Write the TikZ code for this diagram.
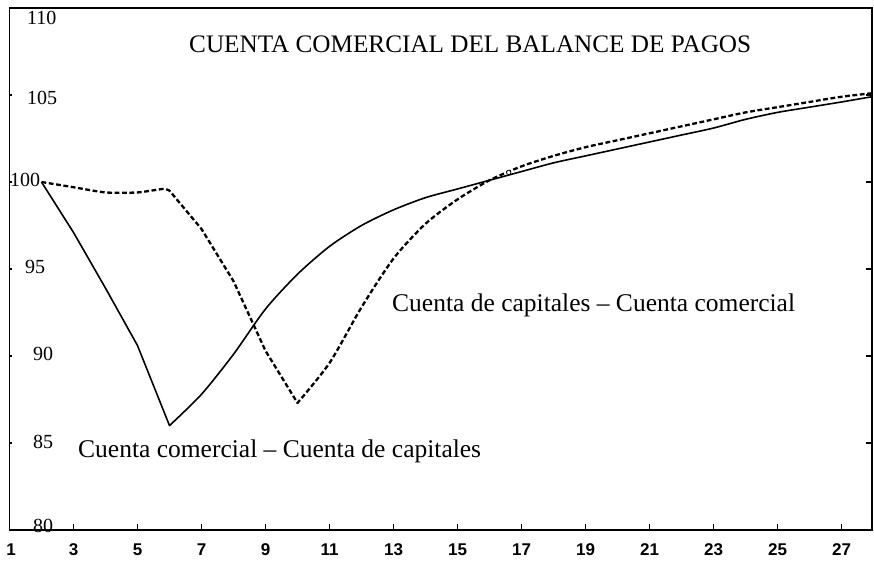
\documentclass[tikz,border=0pt]{standalone}
\usepackage{fontspec}
\setmainfont{Liberation Serif}
\newfontfamily\axisfont{Liberation Sans}
\begin{document}
\begin{tikzpicture}[
  frameline/.style={line width=1.9pt, line cap=rect},
  tickline/.style={line width=1.5pt},
  solidcurve/.style={line width=1.6pt, line join=round},
  dashcurve/.style={line width=2.3pt, dash pattern=on 4.8pt off 2.6pt, line join=round},
  ylab/.style={anchor=base west, inner sep=0pt, font=\fontsize{20}{22}\selectfont},
  xlab/.style={anchor=base, inner sep=0pt, font=\axisfont\bfseries\fontsize{17}{19}\selectfont},
  curvelab/.style={anchor=base west, inner sep=0pt, font=\fontsize{25.5}{28}\selectfont},
  titlelab/.style={anchor=base west, inner sep=0pt, font=\fontsize{25.2}{28}\selectfont}
]
\useasboundingbox (0pt,0pt) rectangle (874pt,-561pt);
\fill[white] (0pt,0pt) rectangle (874pt,-561pt);

% data scope: x in periods, y in index value
\begin{scope}[shift={(9.5pt,-530pt)}, x=32pt, y=17.4pt, shift={(-1,-80)}]
  % frame
  \draw[frameline] (1,80) rectangle (27.95,110);
  % bottom ticks
  \foreach \n in {3,5,...,27} \draw[tickline] (\n,80) -- ++(0,0.32);
  % left and right ticks
  \foreach \v in {85,90,95,100,105} {
    \draw[tickline] (1,\v) -- ++(0.09,0);
    \draw[tickline] (27.95,\v) -- ++(-0.17,0);
  }
  % solid curve
  \draw[solidcurve] (2,100) -- (3,97.1) -- (4,93.9) -- (5,90.6) -- (6,86)
    -- plot[smooth, tension=0.45] coordinates {(6,86) (7,87.8) (8,90.1) (9,92.7) (10,94.7) (11,96.3) (12,97.5) (13,98.4) (14,99.1) (15,99.6) (16,100.1) (17,100.6) (18,101.1) (19,101.5) (20,101.9) (21,102.3) (22,102.7) (23,103.1) (24,103.6) (25,104) (26,104.3) (27,104.6) (27.95,104.9)};
  % dashed curve
  \draw[dashcurve] plot[smooth, tension=0.4] coordinates {(2,100) (3,99.7) (4,99.4) (5,99.4) (5.8,99.6) (6,99.5)}
    -- (7,97.3) -- (8,94.3) -- (9,90.3) -- (10,87.3)
    -- plot[smooth, tension=0.45] coordinates {(10,87.3) (11,89.6) (12,92.8) (13,95.6) (14,97.6) (15,99.0) (16,100.1) (17,100.9) (18,101.5) (19,102) (20,102.4) (21,102.8) (22,103.2) (23,103.6) (24,104) (25,104.3) (26,104.6) (27,104.9) (27.95,105.1)};
  % small open circle where the curves meet
  \draw[line width=0.7pt, fill=white] (16.6,100.55) circle[radius=2.2pt];
  % x labels
  \foreach \n in {3,5,...,27} \node[xlab] (x\n) at (\n,78.55) {\n};
  \node[xlab] (x1) at (1.05,78.55) {1};
\end{scope}

% y labels (pixel positions)
\node[ylab] (y110) at (27pt,-25pt) {110};
\node[ylab] (y105) at (27pt,-105pt) {105};
\node[ylab] (y100) at (10pt,-187pt) {100};
\node[ylab] (y95) at (25pt,-273pt) {95};
\node[ylab] (y90) at (33pt,-360pt) {90};
\node[ylab] (y85) at (33pt,-448pt) {85};
\node[ylab] (y80) at (33pt,-532pt) {80};

% title and curve labels
\node[titlelab] (title) at (189pt,-53pt) {CUENTA COMERCIAL DEL BALANCE DE PAGOS};
\node[curvelab] (lab1) at (392pt,-311pt) {Cuenta de capitales -- Cuenta comercial};
\node[curvelab] (lab2) at (78pt,-457pt) {Cuenta comercial -- Cuenta de capitales};
\end{tikzpicture}
\end{document}
